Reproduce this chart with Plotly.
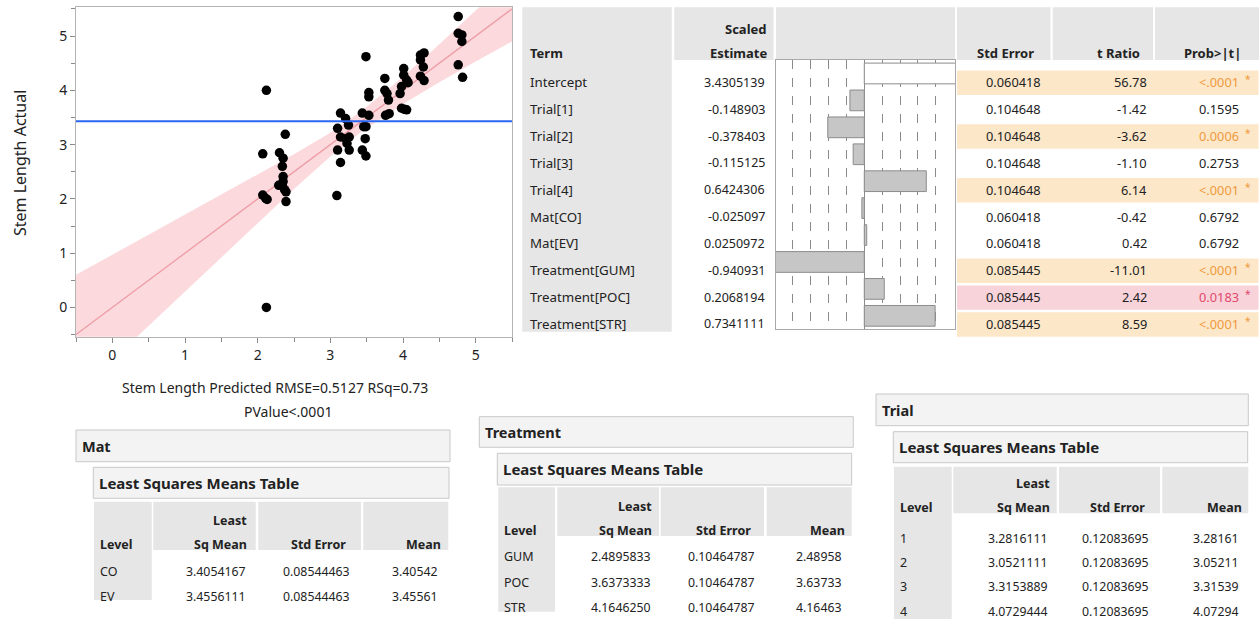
import plotly.graph_objects as go

W, H = 1259, 619

# ---------------- data: actual vs predicted ----------------
pred = [4.76, 4.76, 4.81, 4.81, 4.76, 4.82, 3.49, 2.12, 2.12,
        4.24, 4.29, 4.24, 4.28, 4.24, 4.29,
        4.01, 4.01, 4.05, 4.07, 3.98, 3.96, 3.98, 4.05, 4.02,
        3.75, 3.75, 3.78, 3.80, 3.76, 3.81,
        3.53, 3.53, 3.53, 3.44, 3.46, 3.49, 3.48, 3.44, 3.49,
        3.14, 3.21, 3.25, 3.10, 3.14, 3.21, 3.26, 3.23, 3.10, 3.26, 3.14, 3.09,
        2.07, 2.30, 2.35, 2.34, 2.35, 2.35, 2.29, 2.34, 2.37, 2.39, 2.38, 2.39, 2.07, 2.11, 2.13]
actual = [5.36, 5.05, 5.02, 4.90, 4.47, 4.24, 4.62, 4.00, 0.00,
          4.65, 4.69, 4.56, 4.43, 4.26, 4.18,
          4.40, 4.28, 4.19, 4.14, 4.07, 3.94, 3.67, 3.64, 3.65,
          4.22, 4.00, 3.94, 3.82, 3.54, 3.57,
          3.96, 3.88, 3.54, 3.58, 3.33, 3.33, 3.11, 2.90, 2.79,
          3.58, 3.48, 3.36, 3.30, 3.14, 3.11, 3.14, 3.02, 2.90, 2.90, 2.67, 2.06,
          2.83, 2.85, 2.75, 2.60, 2.41, 2.32, 2.25, 2.25, 2.17, 2.13, 3.19, 1.95, 2.07, 2.01, 1.99]
band_x = [-0.5, 0.0, 0.5, 1.0, 1.5, 2.0, 2.5, 3.0, 3.43, 4.0, 4.5, 5.0, 5.5]
band_fit = [-0.5, 0.0, 0.5, 1.0, 1.5, 2.0, 2.5, 3.0, 3.43, 4.0, 4.5, 5.0, 5.5]
band_lo = [-1.60, -0.97, -0.33, 0.30, 0.93, 1.56, 2.18, 2.78, 3.24, 3.75, 4.15, 4.53, 4.90]
band_hi = [0.60, 0.97, 1.33, 1.70, 2.07, 2.44, 2.82, 3.22, 3.62, 4.25, 4.85, 5.47, 6.10]
mean_actual = 3.4305139
x_title = "Stem Length Predicted RMSE=0.5127 RSq=0.73"
x_title2 = "PValue&lt;.0001"
y_title = "Stem Length Actual"

# ---------------- data: parameter estimates ----------------
terms = ["Intercept", "Trial[1]", "Trial[2]", "Trial[3]", "Trial[4]", "Mat[CO]", "Mat[EV]",
         "Treatment[GUM]", "Treatment[POC]", "Treatment[STR]"]
scaled_est = [3.4305139, -0.148903, -0.378403, -0.115125, 0.6424306, -0.025097, 0.0250972,
              -0.940931, 0.2068194, 0.7341111]
std_err = [0.060418, 0.104648, 0.104648, 0.104648, 0.104648, 0.060418, 0.060418,
           0.085445, 0.085445, 0.085445]
t_ratio = [56.78, -1.42, -3.62, -1.10, 6.14, -0.42, 0.42, -11.01, 2.42, 8.59]
prob = ["<.0001", "0.1595", "0.0006", "0.2753", "<.0001", "0.6792", "0.6792",
        "<.0001", "0.0183", "<.0001"]

# ---------------- data: least squares means ----------------
mat_levels = ["CO", "EV"]
mat_lsm = [3.4054167, 3.4556111]
mat_se = [0.08544463, 0.08544463]
mat_mean = [3.40542, 3.45561]

trt_levels = ["GUM", "POC", "STR"]
trt_lsm = [2.4895833, 3.6373333, 4.1646250]
trt_se = [0.10464787, 0.10464787, 0.10464787]
trt_mean = [2.48958, 3.63733, 4.16463]

trial_levels = ["1", "2", "3", "4"]
trial_lsm = [3.2816111, 3.0521111, 3.3153889, 4.0729444]
trial_se = [0.12083695, 0.12083695, 0.12083695, 0.12083695]
trial_mean = [3.28161, 3.05211, 3.31539, 4.07294]

# ---------------- styling ----------------
FONT = "Noto Sans"
TXT = "#222222"
GRAY = "#e6e6e6"
BOXF = "#f3f3f3"
BOXL = "#c8c8c8"
PEACH = "#fde7c9"
PINK = "#f9d3da"
ORANGE_T = "#ef9a3c"
PINK_T = "#e04a6c"


def fx(x):
    return x / W


def fy(y):
    return 1 - y / H


shapes = []
annots = []


def rect(x0, x1, y0, y1, fill, line=None, lw=1):
    shapes.append(dict(type="rect", xref="paper", yref="paper",
                       x0=fx(x0), x1=fx(x1), y0=fy(y1), y1=fy(y0),
                       fillcolor=fill, layer="below",
                       line=dict(color=line if line else "rgba(0,0,0,0)", width=lw if line else 0)))


def text(x, y, s, size=12.5, anchor="left", bold=False, color=TXT):
    annots.append(dict(x=fx(x), y=fy(y), xref="paper", yref="paper",
                       text=("<b>%s</b>" % s) if bold else s, showarrow=False,
                       xanchor=anchor, yanchor="middle", borderpad=0,
                       font=dict(size=size, color=color, family=FONT)))


fig = go.Figure()

# ---- scatter plot (actual by predicted) ----
fig.add_trace(go.Scatter(x=band_x, y=band_lo, mode="lines", line=dict(width=0),
                         hoverinfo="skip", xaxis="x", yaxis="y"))
fig.add_trace(go.Scatter(x=band_x, y=band_hi, mode="lines", line=dict(width=0),
                         fill="tonexty", fillcolor="rgba(246,170,180,0.45)",
                         hoverinfo="skip", xaxis="x", yaxis="y"))
fig.add_trace(go.Scatter(x=band_x, y=band_fit, mode="lines",
                         line=dict(color="rgba(236,150,160,0.9)", width=1.3),
                         xaxis="x", yaxis="y"))
fig.add_trace(go.Scatter(x=pred, y=actual, mode="markers",
                         marker=dict(color="black", size=9.5),
                         xaxis="x", yaxis="y"))
shapes.append(dict(type="line", xref="x domain", yref="y", x0=0, x1=1,
                   y0=mean_actual, y1=mean_actual, layer="above",
                   line=dict(color="#2a66f0", width=2)))

# ---- scaled estimate bars ----
bar_colors = ["white"] + ["#c6c6c6"] * (len(terms) - 1)
fig.add_trace(go.Bar(x=scaled_est, y=list(range(len(terms))), orientation="h",
                     width=0.77, marker=dict(color=bar_colors, line=dict(color="#8c8c8c", width=1)),
                     xaxis="x2", yaxis="y2"))

# ---- parameter table ----
hdr_top, hdr_bot = 7.3, 60
rect(522.3, 671.7, hdr_top, 331.7, GRAY)             # Term column
rect(674.3, 773.5, hdr_top, hdr_bot, GRAY)           # Scaled Estimate header
rect(776, 955, hdr_top, hdr_bot, GRAY)               # bar header
rect(957, 1050.5, hdr_top, hdr_bot, GRAY)            # Std Error header
rect(1052.7, 1153, hdr_top, hdr_bot, GRAY)           # t Ratio header
rect(1155, 1259, hdr_top, hdr_bot, GRAY)             # Prob header

text(529, 53.3, "Term", 13, "left", True)
text(768, 29.3, "Scaled", 13, "right", True)
text(768, 53.3, "Estimate", 13, "right", True)
text(1035.3, 53.3, "Std Error", 13, "right", True)
text(1140.7, 53.3, "t Ratio", 13, "right", True)
text(1241.7, 53.3, "Prob&gt;|t|", 13, "right", True)

row0, drow = 82.3, 26.85
for i, term in enumerate(terms):
    yc = row0 + drow * i
    p = prob[i]
    pval = 0.0 if p.startswith("<") else float(p)
    if pval < 0.01:
        rect(957, 1258.5, yc - 11.7, yc + 12.7, PEACH)
        pcol = ORANGE_T
    elif pval < 0.05:
        rect(957, 1258.5, yc - 11.7, yc + 12.7, PINK)
        pcol = PINK_T
    else:
        pcol = TXT
    text(529, yc, term, 13.3, "left")
    text(766, yc, repr(scaled_est[i]), 12.5, "right")
    text(1041.5, yc, "%.6f" % std_err[i], 12.8, "right")
    text(1147.7, yc, "%.2f" % t_ratio[i], 12.8, "right")
    text(1239.5, yc, p.replace("<", "&lt;"), 12.8, "right", color=pcol)
    if pcol != TXT:
        text(1243.5, yc - 3, "*", 10, "left", color=pcol)

# ---- scatter titles ----
annots.append(dict(x=fx(20), y=fy(163), xref="paper", yref="paper", text=y_title,
                   showarrow=False, textangle=-90, xanchor="center", yanchor="middle",
                   font=dict(size=16, color=TXT, family=FONT)))
text(275, 387.7, x_title, 14, "center")
text(288, 411.7, x_title2, 14, "center")

# ---- least squares means tables ----
geoms = [
    dict(outer=(76, 450, 430, 461.7), lsmt=(93.3, 449, 467.3, 498.3), hdr=(501.7, 550),
         cols=[(94, 151.7), (153.3, 255.7), (258.3, 361), (363.3, 448.3)], body_end=600,
         rows=[571, 596], vals=[246.7, 350.7, 439.3]),
    dict(outer=(479.3, 853.3, 416.7, 447.3), lsmt=(497.3, 851.7, 453.3, 485), hdr=(487.3, 536),
         cols=[(498.3, 555), (557.3, 659), (660.7, 764), (766.7, 851.7)], body_end=611.7,
         rows=[556.7, 582.7, 607.3], vals=[651.7, 756, 842.7]),
    dict(outer=(876, 1248.3, 394, 425.7), lsmt=(893.3, 1247.7, 431.7, 462.7), hdr=(466.7, 513.3),
         cols=[(894, 951.7), (953.3, 1056.7), (1059, 1160), (1162.3, 1248.3)], body_end=619,
         rows=[538.3, 562.3, 586.7, 611.7], vals=[1049.3, 1150, 1240]),
]
lsm_tables = [
    ("Mat", mat_levels, mat_lsm, mat_se, mat_mean),
    ("Treatment", trt_levels, trt_lsm, trt_se, trt_mean),
    ("Trial", trial_levels, trial_lsm, trial_se, trial_mean),
]
for (title, levels, lsm, se, mn), g in zip(lsm_tables, geoms):
    ox0, ox1, oy0, oy1 = g["outer"]
    rect(ox0, ox1, oy0, oy1, BOXF, BOXL)
    text(ox0 + 5, (oy0 + oy1) / 2, title, 14.5, "left", True)
    lx0, lx1, ly0, ly1 = g["lsmt"]
    rect(lx0, lx1, ly0, ly1, BOXF, BOXL)
    text(lx0 + 5, (ly0 + ly1) / 2, "Least Squares Means Table", 15, "left", True)
    hy0, hy1 = g["hdr"]
    c = g["cols"]
    rect(c[0][0], c[0][1], hy0, g["body_end"], GRAY)
    for cx0, cx1 in c[1:]:
        rect(cx0, cx1, hy0, hy1, GRAY)
    v = g["vals"]
    yb = hy1 - 5.5
    yt = yb - 24
    text(c[0][0] + 5, yb, "Level", 12.5, "left", True)
    text(v[0] + 1.5, yt, "Least", 12.5, "right", True)
    text(v[0] + 1.5, yb, "Sq Mean", 12.5, "right", True)
    text(v[1] - 4, yb, "Std Error", 12.5, "right", True)
    text(v[2] + 3, yb, "Mean", 12.5, "right", True)
    for j, lev in enumerate(levels):
        yr = g["rows"][j]
        text(c[0][0] + 5, yr, lev, 12.5, "left")
        text(v[0], yr, "%.7f" % lsm[j], 12.3, "right")
        text(v[1], yr, "%.8f" % se[j], 12.3, "right")
        text(v[2], yr, "%.5f" % mn[j], 12.3, "right")

# ---------------- layout ----------------
axis_common = dict(showgrid=False, zeroline=False, showline=True, mirror=True,
                   linecolor="#b4b4b4", linewidth=1)
gv = 0.185
fig.update_layout(
    width=W, height=H, autosize=False,
    margin=dict(l=0, r=0, t=0, b=0),
    paper_bgcolor="white", plot_bgcolor="white",
    showlegend=False,
    font=dict(family=FONT, color=TXT),
    xaxis=dict(domain=[fx(76), fx(512)], range=[-0.5, 5.5], dtick=1, tick0=0,
               ticks="outside", ticklen=5, tickcolor="#8a8a8a",
               minor=dict(dtick=0.5, tick0=0, ticks="outside", ticklen=4, tickcolor="#8a8a8a"),
               tickfont=dict(size=14, color=TXT), anchor="y", **axis_common),
    yaxis=dict(domain=[fy(336.7), fy(7.3)], range=[-0.54, 5.53], dtick=1, tick0=0,
               ticks="outside", ticklen=5, tickcolor="#8a8a8a",
               minor=dict(dtick=0.5, tick0=0, ticks="outside", ticklen=4, tickcolor="#8a8a8a"),
               tickfont=dict(size=14, color=TXT), anchor="x", **axis_common),
    xaxis2=dict(domain=[fx(776), fx(955)], range=[-0.915, 0.94], anchor="y2",
                showgrid=True, griddash="dash", gridcolor="#8a8a8a", gridwidth=1,
                tickvals=[-4 * gv, -3 * gv, -2 * gv, -gv, gv, 2 * gv, 3 * gv, 4 * gv],
                showticklabels=False, ticks="",
                zeroline=True, zerolinecolor="#8a8a8a", zerolinewidth=1,
                showline=True, mirror=True, linecolor="#a8a8a8", linewidth=1),
    yaxis2=dict(domain=[fy(329.3), fy(60)], range=[len(terms) - 0.5, -0.5], anchor="x2",
                showgrid=False, zeroline=False, showticklabels=False, ticks="",
                showline=True, mirror=True, linecolor="#a8a8a8", linewidth=1),
    shapes=shapes,
    annotations=annots,
)

fig.write_html("out.html", config={"displayModeBar": False},
               post_script="document.body.style.margin='0';document.body.style.overflow='hidden';")
